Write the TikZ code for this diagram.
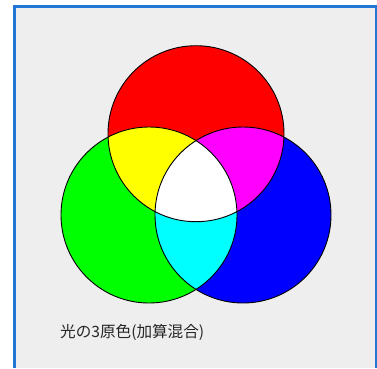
\documentclass[tikz,border=0pt]{standalone}
\usepackage{fontspec}
\newfontfamily\cjk{Noto Sans CJK JP}
\definecolor{frameblue}{HTML}{2277D6}
\definecolor{panelgray}{HTML}{EEEEEE}
\definecolor{rgbred}{HTML}{FF0000}
\definecolor{rgbgreen}{HTML}{00FF00}
\definecolor{rgbblue}{HTML}{0000FF}
\definecolor{rgbyellow}{HTML}{FFFF00}
\definecolor{rgbmagenta}{HTML}{FF00FF}
\definecolor{rgbcyan}{HTML}{00FFFF}
\begin{document}
\begin{tikzpicture}[x=1pt,y=1pt,
  outline/.style={draw=black,line width=0.9pt},
  caption/.style={font=\cjk\fontsize{15.6}{18}\selectfont,inner sep=0pt,anchor=base west,text=black!85}]
\useasboundingbox (0,0) rectangle (377,-368);
\fill[white] (0,0) rectangle (377,-368);
% panel
\fill[panelgray] (13,-5) rectangle (376,-368);
\fill[frameblue] (13,-5) rectangle (16,-368);
\fill[frameblue] (13,-5) rectangle (376,-7.5);
\fill[frameblue] (375,-5) rectangle (376.5,-368);
% circle centres
\coordinate (R) at (196,-133.7);
\coordinate (G) at (149,-215);
\coordinate (B) at (243,-215);
\def\rad{88}
% primaries
\fill[rgbred] (R) circle (\rad);
\fill[rgbgreen] (G) circle (\rad);
\fill[rgbblue] (B) circle (\rad);
% secondaries
\begin{scope}\clip (R) circle (\rad); \fill[rgbyellow] (G) circle (\rad); \end{scope}
\begin{scope}\clip (R) circle (\rad); \fill[rgbmagenta] (B) circle (\rad); \end{scope}
\begin{scope}\clip (G) circle (\rad); \fill[rgbcyan] (B) circle (\rad); \end{scope}
\begin{scope}\clip (R) circle (\rad); \clip (G) circle (\rad); \fill[white] (B) circle (\rad); \end{scope}
% outlines
\draw[outline] (R) circle (\rad);
\draw[outline] (G) circle (\rad);
\draw[outline] (B) circle (\rad);
\node[caption] (cap) at (60,-337) {光の3原色(加算混合)};
\end{tikzpicture}
\end{document}
